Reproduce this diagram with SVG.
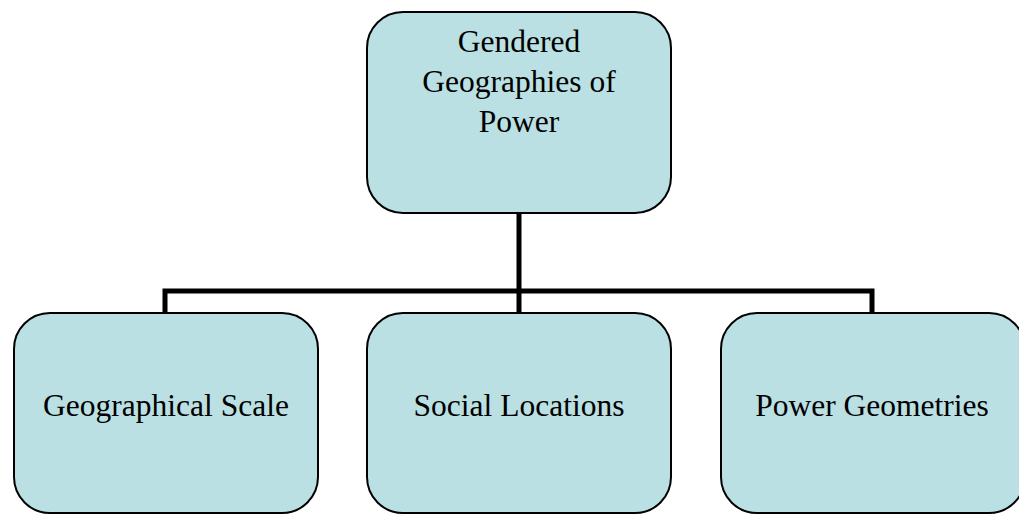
<svg xmlns="http://www.w3.org/2000/svg" width="1019" height="514" viewBox="0 0 1019 514">
<style>
.box{fill:#bae0e3;stroke:#000;stroke-width:2}
.t{font-family:'Liberation Serif','Times New Roman',Times,serif;font-size:31.5px;fill:#000;text-anchor:middle}
.c{fill:none;stroke:#000;stroke-width:5}
</style>
<rect width="1019" height="514" fill="#fff"/>
<g id="connectors">
<path class="c" d="M519,213 V291 M165,313 V291 H872 V313 M519,291 V313"/>
</g>
<g id="top">
<rect class="box" x="367" y="12" width="304" height="201" rx="36"/>
<text class="t" x="519" y="52">Gendered</text>
<text class="t" x="519" y="92">Geographies of</text>
<text class="t" x="519" y="132">Power</text>
</g>
<g id="scale">
<rect class="box" x="14" y="313" width="304" height="200" rx="36"/>
<text class="t" x="166" y="416">Geographical Scale</text>
</g>
<g id="social">
<rect class="box" x="367" y="313" width="304" height="200" rx="36"/>
<text class="t" x="519" y="416">Social Locations</text>
</g>
<g id="power">
<rect class="box" x="721" y="313" width="304" height="200" rx="36"/>
<text class="t" x="872" y="416">Power Geometries</text>
</g>
</svg>
